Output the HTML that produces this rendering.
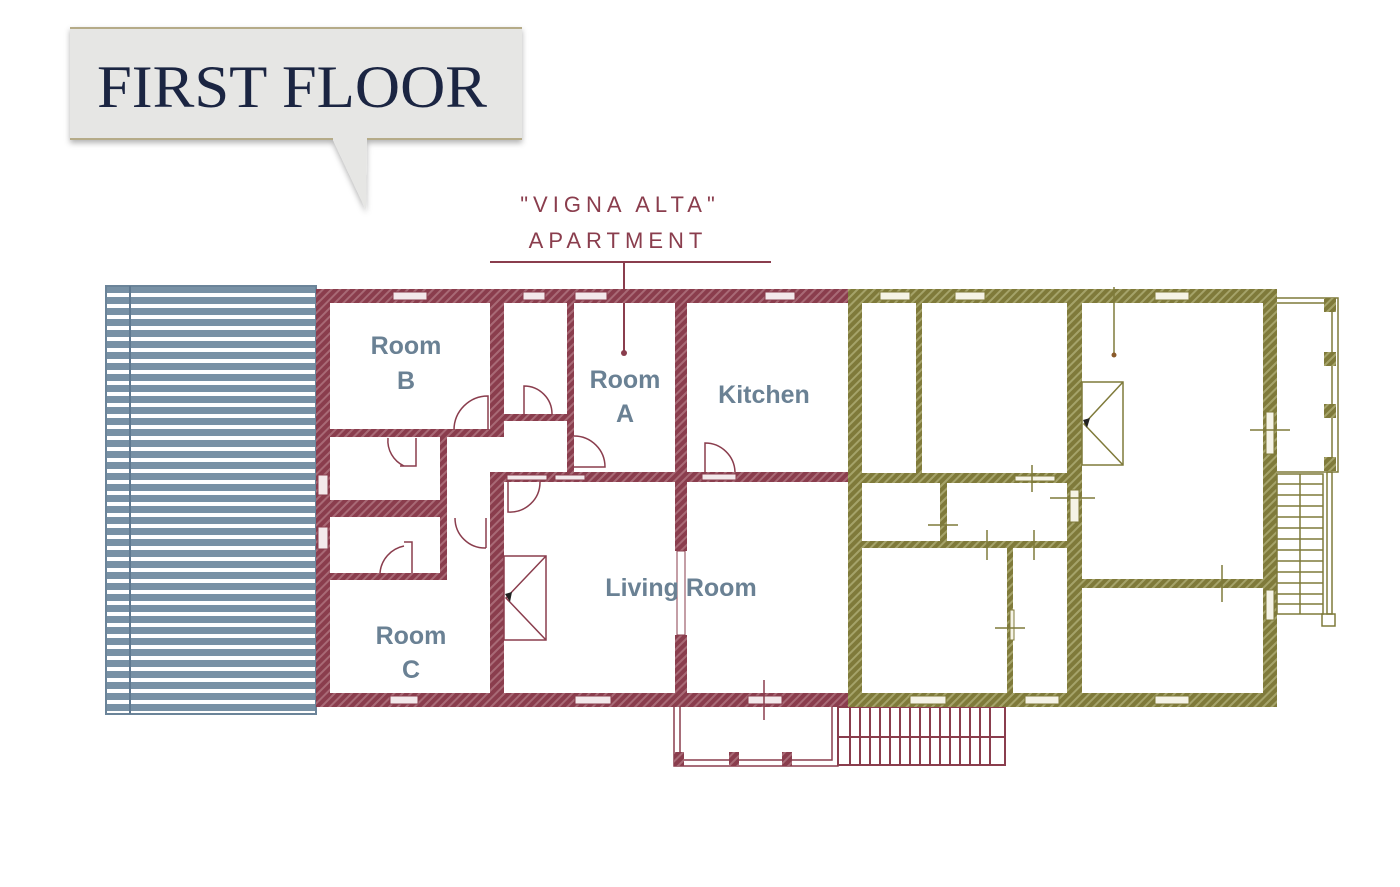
<!DOCTYPE html>
<html><head><meta charset="utf-8"><style>
html,body{margin:0;padding:0;background:#fff;}
svg{display:block;}
</style></head><body>
<svg width="1400" height="887" viewBox="0 0 1400 887" xmlns="http://www.w3.org/2000/svg">
<defs>
<pattern id="hm" width="6" height="6" patternUnits="userSpaceOnUse" patternTransform="rotate(45)">
<rect width="6" height="6" fill="#8a3d4d"/><rect width="2" height="6" fill="#a86a76"/></pattern>
<pattern id="ho" width="6" height="6" patternUnits="userSpaceOnUse" patternTransform="rotate(45)">
<rect width="6" height="6" fill="#7f7a3a"/><rect width="2" height="6" fill="#a5a36a"/></pattern>
<pattern id="st" width="11" height="11" patternUnits="userSpaceOnUse" y="287">
<rect width="11" height="11" fill="#7891a5"/><rect y="6" width="11" height="4" fill="#fff"/></pattern>
<filter id="sh" x="-10%" y="-10%" width="120%" height="140%"><feDropShadow dx="0" dy="3" stdDeviation="3" flood-color="#000" flood-opacity="0.3"/></filter>
</defs>

<!-- callout -->
<g filter="url(#sh)">
<path d="M70 27 H522 V140 H367 L366 210 L333 140 H70 Z" fill="#e6e6e4"/>
</g>
<line x1="70" y1="28" x2="522" y2="28" stroke="#b5ab88" stroke-width="2"/>
<line x1="70" y1="139" x2="333" y2="139" stroke="#b5ab88" stroke-width="2"/>
<line x1="367" y1="139" x2="522" y2="139" stroke="#b5ab88" stroke-width="2"/>
<text x="97" y="107" font-family="Liberation Serif, serif" font-size="60" fill="#1b2542" textLength="390" lengthAdjust="spacingAndGlyphs">FIRST FLOOR</text>

<!-- apartment label -->
<g font-family="Liberation Sans, sans-serif" font-size="22" fill="#8a3d4d" text-anchor="middle" letter-spacing="5">
<text x="620" y="212">"VIGNA ALTA"</text>
<text x="618" y="248">APARTMENT</text>
</g>
<line x1="490" y1="262" x2="771" y2="262" stroke="#8a3d4d" stroke-width="2"/>
<line x1="624" y1="262" x2="624" y2="352" stroke="#8a3d4d" stroke-width="2"/>
<circle cx="624" cy="353" r="3" fill="#8a3d4d"/>

<!-- blue stairs -->
<rect x="106" y="286" width="210" height="428" fill="url(#st)" stroke="#6b8499" stroke-width="2"/>
<line x1="130" y1="286" x2="130" y2="714" stroke="#5f7990" stroke-width="2"/>

<!-- maroon apartment walls -->
<g fill="url(#hm)">
<rect x="316" y="289" width="534" height="14"/>
<rect x="316" y="693" width="534" height="14"/>
<rect x="316" y="289" width="14" height="418"/>
<rect x="490" y="303" width="14" height="133"/>
<rect x="330" y="429" width="174" height="8"/>
<rect x="504" y="414" width="69" height="7"/>
<rect x="567" y="303" width="7" height="170"/>
<rect x="675" y="303" width="12" height="248"/>
<rect x="675" y="635" width="12" height="60"/>
<rect x="490" y="472" width="360" height="10"/>
<rect x="490" y="476" width="14" height="220"/>
<rect x="440" y="430" width="7" height="150"/>
<rect x="330" y="500" width="117" height="17"/>
<rect x="330" y="573" width="117" height="7"/>
</g>
<rect x="677" y="551" width="8" height="84" fill="#fff" stroke="#8a3d4d" stroke-width="1"/>
<g fill="#f3e9eb" stroke="#8a3d4d" stroke-width="1">
<rect x="393" y="292" width="34" height="8"/><rect x="523" y="292" width="22" height="8"/>
<rect x="575" y="292" width="32" height="8"/><rect x="765" y="292" width="30" height="8"/>
<rect x="318" y="475" width="10" height="20"/><rect x="318" y="527" width="10" height="22"/>
<rect x="390" y="696" width="28" height="8"/><rect x="575" y="696" width="36" height="8"/>
<rect x="748" y="696" width="34" height="8"/>
<rect x="507" y="475" width="40" height="5"/><rect x="555" y="475" width="30" height="5"/>
<rect x="702" y="474" width="34" height="6"/>
</g>
<!-- doors -->
<g fill="none" stroke="#8a3d4d" stroke-width="1.5">
<path d="M488 430 V396 A34 34 0 0 0 454 430"/>
<path d="M524 414 V386 A28 28 0 0 1 552 414"/>
<path d="M574 436 A31 31 0 0 1 605 467 H574"/>
<path d="M705 472 V443 A30 30 0 0 1 735 472"/>
<path d="M508 482 V512 A30 30 0 0 0 540 482"/>
<path d="M416 438 V466 H400"/><path d="M388 438 A28 28 0 0 0 404 466"/>
<path d="M412 573 V542 H404"/><path d="M380 573 A30 30 0 0 1 404 546"/>
<path d="M486 518 V548"/><path d="M455 518 A30 30 0 0 0 486 548"/>
</g>
<g fill="#fff" stroke="#8a3d4d" stroke-width="1.5">
<rect x="504" y="556" width="42" height="84"/>
<path d="M546 556 L506 598 L546 640" fill="none"/>
</g>
<path d="M505 594 L512 592 L510 602 Z" fill="#222"/>
<g fill="none" stroke="#8a3d4d" stroke-width="1.5">
<path d="M674 707 V766 H838 V707"/><path d="M680 707 V760 H832 V707"/>
<line x1="764" y1="680" x2="764" y2="720"/>
</g>
<g fill="url(#hm)"><rect x="674" y="752" width="10" height="14"/><rect x="729" y="752" width="10" height="14"/><rect x="782" y="752" width="10" height="14"/></g>
<rect x="838" y="707" width="167" height="58" fill="#fff" stroke="#8a3d4d" stroke-width="2"/>
<g stroke="#8a3d4d" stroke-width="2">
<line x1="850" y1="707" x2="850" y2="765"/><line x1="860" y1="707" x2="860" y2="765"/><line x1="870" y1="707" x2="870" y2="765"/><line x1="880" y1="707" x2="880" y2="765"/><line x1="890" y1="707" x2="890" y2="765"/><line x1="900" y1="707" x2="900" y2="765"/><line x1="910" y1="707" x2="910" y2="765"/><line x1="920" y1="707" x2="920" y2="765"/><line x1="930" y1="707" x2="930" y2="765"/><line x1="940" y1="707" x2="940" y2="765"/><line x1="950" y1="707" x2="950" y2="765"/><line x1="960" y1="707" x2="960" y2="765"/><line x1="970" y1="707" x2="970" y2="765"/><line x1="980" y1="707" x2="980" y2="765"/><line x1="990" y1="707" x2="990" y2="765"/>
<line x1="838" y1="737" x2="1005" y2="737"/>
</g>

<!-- olive walls -->
<g fill="url(#ho)">
<rect x="848" y="289" width="429" height="14"/>
<rect x="848" y="693" width="429" height="14"/>
<rect x="848" y="289" width="14" height="418"/>
<rect x="1263" y="289" width="14" height="418"/>
<rect x="916" y="303" width="6" height="172"/>
<rect x="862" y="473" width="208" height="10"/>
<rect x="1067" y="303" width="15" height="390"/>
<rect x="862" y="541" width="205" height="7"/>
<rect x="940" y="483" width="7" height="58"/>
<rect x="1007" y="548" width="6" height="145"/>
<rect x="1082" y="579" width="181" height="9"/>
</g>
<g fill="#f5f3e6" stroke="#7f7a3a" stroke-width="1">
<rect x="880" y="292" width="30" height="8"/><rect x="955" y="292" width="30" height="8"/>
<rect x="1155" y="292" width="34" height="8"/>
<rect x="910" y="696" width="36" height="8"/><rect x="1025" y="696" width="34" height="8"/>
<rect x="1155" y="696" width="34" height="8"/>
<rect x="1266" y="412" width="8" height="42"/><rect x="1266" y="590" width="8" height="30"/>
<rect x="1070" y="490" width="9" height="32"/><rect x="1010" y="610" width="4" height="30"/>
<rect x="1015" y="476" width="40" height="5"/>
</g>
<g stroke="#7f7a3a" stroke-width="1.5">
<line x1="1032" y1="465" x2="1032" y2="492"/><line x1="1050" y1="498" x2="1095" y2="498"/>
<line x1="928" y1="525" x2="958" y2="525"/><line x1="987" y1="530" x2="987" y2="560"/>
<line x1="1034" y1="530" x2="1034" y2="560"/><line x1="995" y1="628" x2="1025" y2="628"/>
<line x1="1222" y1="565" x2="1222" y2="602"/><line x1="1250" y1="430" x2="1290" y2="430"/>
<line x1="1114" y1="287" x2="1114" y2="354"/>
</g>
<circle cx="1114" cy="355" r="2.5" fill="#8a5a2a"/>
<g fill="#fff" stroke="#7f7a3a" stroke-width="1.5">
<rect x="1082" y="382" width="41" height="83"/>
<path d="M1123 382 L1084 424 L1123 465" fill="none"/>
</g>
<path d="M1083 420 L1090 418 L1087 428 Z" fill="#222"/>
<g fill="none" stroke="#7f7a3a" stroke-width="1.5">
<path d="M1277 298 H1338 V472 H1277"/><path d="M1277 303 H1332 V468"/>
</g>
<g fill="url(#ho)"><rect x="1324" y="298" width="12" height="14"/><rect x="1324" y="352" width="12" height="14"/><rect x="1324" y="404" width="12" height="14"/><rect x="1324" y="457" width="12" height="14"/></g>
<g stroke="#7f7a3a" stroke-width="1.5" fill="none">
<rect x="1277" y="474" width="46" height="140"/>
<line x1="1277" y1="484" x2="1323" y2="484"/><line x1="1277" y1="495" x2="1323" y2="495"/><line x1="1277" y1="506" x2="1323" y2="506"/><line x1="1277" y1="517" x2="1323" y2="517"/><line x1="1277" y1="528" x2="1323" y2="528"/><line x1="1277" y1="539" x2="1323" y2="539"/><line x1="1277" y1="550" x2="1323" y2="550"/><line x1="1277" y1="561" x2="1323" y2="561"/><line x1="1277" y1="572" x2="1323" y2="572"/><line x1="1277" y1="583" x2="1323" y2="583"/><line x1="1277" y1="594" x2="1323" y2="594"/><line x1="1277" y1="604" x2="1323" y2="604"/>
<line x1="1300" y1="474" x2="1300" y2="614"/>
<rect x="1327" y="472" width="5" height="142"/><rect x="1322" y="614" width="13" height="12"/>
</g>

<g font-family="Liberation Sans, sans-serif" font-weight="bold" font-size="25" fill="#6a8194" text-anchor="middle">
<text x="406" y="354">Room</text><text x="406" y="389">B</text>
<text x="625" y="388">Room</text><text x="625" y="422">A</text>
<text x="764" y="403">Kitchen</text>
<text x="681" y="596">Living Room</text>
<text x="411" y="644">Room</text><text x="411" y="678">C</text>
</g>
</svg>
</body></html>
